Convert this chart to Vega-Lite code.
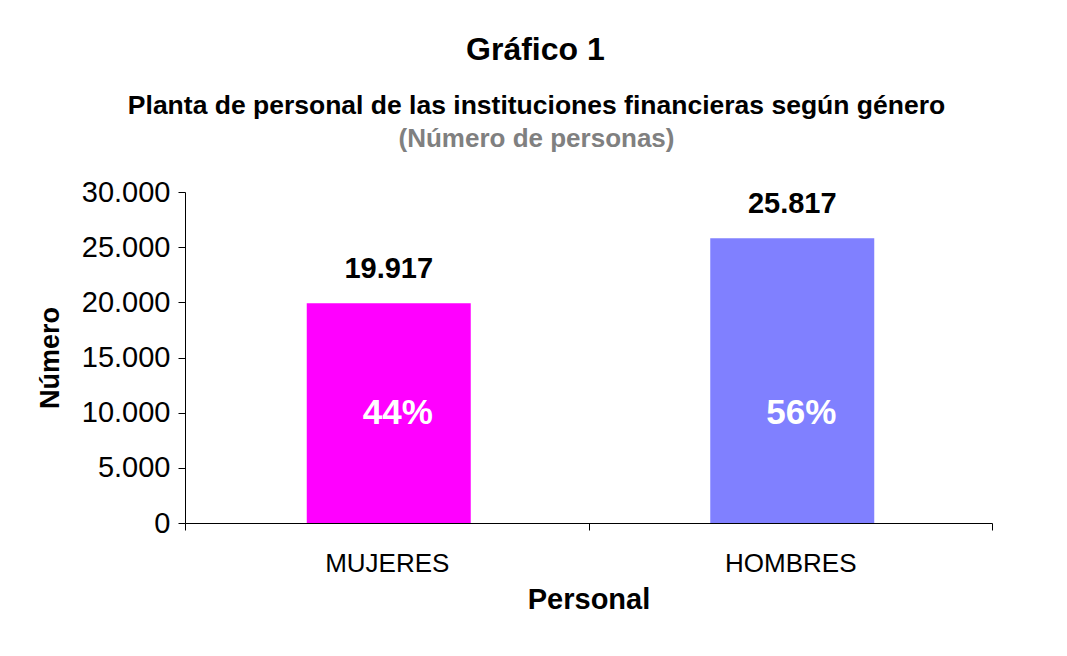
{
  "$schema": "https://vega.github.io/schema/vega-lite/v6.json",
  "background": "white",
  "padding": {"left": 36, "top": 33, "right": 10, "bottom": 10},
  "config": {
    "locale": {"number": {"decimal": ",", "thousands": ".", "grouping": [3], "currency": ["", ""]}},
    "view": {"stroke": null},
    "font": "Liberation Sans"
  },
  "title": {
    "text": "Gráfico 1",
    "font": "Liberation Sans",
    "fontSize": 32,
    "fontWeight": "bold",
    "color": "black",
    "anchor": "middle",
    "dx": 21,
    "offset": 26
  },
  "vconcat": [
    {
      "width": 807,
      "height": 331,
      "title": {
        "text": "Planta de personal de las instituciones financieras según género",
        "subtitle": "(Número de personas)",
        "font": "Liberation Sans",
        "fontSize": 26.5,
        "fontWeight": "bold",
        "color": "black",
        "subtitleFont": "Liberation Sans",
        "subtitleFontSize": 26,
        "subtitleFontWeight": "bold",
        "subtitleColor": "#808080",
        "subtitlePadding": 7,
        "anchor": "middle",
        "dx": -52,
        "offset": 26
      },
      "data": {
        "values": [
          {"genero": "MUJERES", "personas": 19917, "pct": 0.44},
          {"genero": "HOMBRES", "personas": 25817, "pct": 0.56}
        ]
      },
      "encoding": {
        "x": {
          "field": "genero",
          "type": "nominal",
          "sort": ["MUJERES", "HOMBRES"],
          "scale": {"paddingInner": 0, "paddingOuter": 0},
          "axis": {
            "title": "Personal",
            "titleFont": "Liberation Sans",
            "titleFontSize": 29,
            "titleFontWeight": "bold",
            "titleColor": "black",
            "titlePadding": 9,
            "labelAngle": 0,
            "labelFont": "Liberation Sans",
            "labelFontSize": 26,
            "labelColor": "black",
            "labelPadding": 20,
            "tickBand": "extent",
            "tickSize": 7,
            "tickColor": "black",
            "domainColor": "black",
            "grid": false
          }
        }
      },
      "layer": [
        {
          "mark": {"type": "bar", "width": 164, "xOffset": 2},
          "encoding": {
            "y": {
              "field": "personas",
              "type": "quantitative",
              "scale": {"domain": [0, 30000], "nice": false},
              "axis": {
                "title": "Número",
                "titleFont": "Liberation Sans",
                "titleFontSize": 27,
                "titleFontWeight": "bold",
                "titleColor": "black",
                "titlePadding": 17,
                "values": [0, 5000, 10000, 15000, 20000, 25000, 30000],
                "format": ",d",
                "labelFont": "Liberation Sans",
                "labelFontSize": 29,
                "labelColor": "black",
                "labelPadding": 8,
                "tickSize": 7,
                "tickColor": "black",
                "domainColor": "black",
                "grid": false
              }
            },
            "color": {
              "field": "genero",
              "type": "nominal",
              "scale": {"domain": ["MUJERES", "HOMBRES"], "range": ["#FF00FF", "#8080FF"]},
              "legend": null
            }
          }
        },
        {
          "mark": {"type": "text", "font": "Liberation Sans", "fontSize": 29, "fontWeight": "bold", "color": "black", "baseline": "alphabetic", "dy": -25, "dx": 2},
          "encoding": {
            "y": {"field": "personas", "type": "quantitative"},
            "text": {"field": "personas", "type": "quantitative", "format": ",d"}
          }
        },
        {
          "mark": {"type": "text", "font": "Liberation Sans", "fontSize": 35, "fontWeight": "bold", "color": "white", "baseline": "middle", "dx": 11},
          "encoding": {
            "y": {"datum": 10000, "type": "quantitative"},
            "text": {"field": "pct", "type": "quantitative", "format": ".0%"}
          }
        }
      ]
    }
  ]
}
